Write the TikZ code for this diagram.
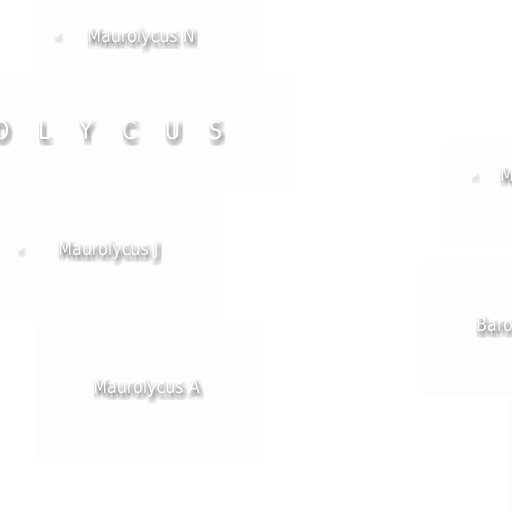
\documentclass[tikz,border=0pt]{standalone}
\usepackage{fontspec}
\setmainfont[FakeStretch=0.84]{DejaVu Sans}
\usetikzlibrary{positioning}
\definecolor{tileclr}{RGB}{253,253,253}
\definecolor{shdclr}{RGB}{40,40,40}
\tikzset{
  tile/.style={fill=tileclr,draw=none},
  lbl/.style={font=\fontsize{19}{19}\selectfont,text=white,inner sep=0pt,anchor=base,
    shdfill/.style={}},
  biglbl/.style={font=\fontsize{25}{25}\selectfont,text=white,inner sep=0pt,anchor=base,
    shdfill/.style={}},
  pit/.style={circle,fill=white,inner sep=0pt,minimum size=4bp,
    shdfill/.style={fill=shdclr,opacity=0.008}},
  shd/.style={text=shdclr,opacity=0.016,shdfill},
}
% name, style, position, text: white label with a soft drop shadow
\newcommand{\maplabel}[4]{%
  \foreach \dx in {-1,0,...,5}{\foreach \dy in {0,...,7}{%
    \node[#2,shd,xshift=\dx bp,yshift=-\dy bp] (#1-\dx-\dy) at (#3) {#4};}}
  \node[#2] (#1) at (#3) {#4};}

\begin{document}
\begin{tikzpicture}[x=1bp,y=-1bp]
  \useasboundingbox (0,0) rectangle (512,512);
  \clip (0,0) rectangle (512,512);
  \fill[white] (0,0) rectangle (512,512);
  % tiles
  \fill[tile] (33,0) rectangle (257,75);
  \fill[tile] (0,75) rectangle (295,192);
  \fill[tile] (0,192) rectangle (222,318);
  \fill[tile] (37,322) rectangle (262,458);
  \fill[tile] (447,140) rectangle (512,245);
  \fill[tile] (423,260) rectangle (512,395);
  \fill[tile] (507,400) rectangle (512,512);
  % crater pits
  \maplabel{pitN}{pit}{57,35}{}
  \maplabel{pitJ}{pit}{20,249}{}
  \maplabel{pitM}{pit}{474,175}{}
  % big name
  \foreach \ch/\xx in {O/1,L/44,Y/86,C/129.5,U/172.5,S/215.5}{
    \maplabel{big\ch}{biglbl}{\xx,140}{\ch}
  }
  % crater names
  \maplabel{nameN}{lbl}{141,42.5}{Maurolycus N}
  \maplabel{nameJ}{lbl}{108.5,255}{Maurolycus J}
  \maplabel{nameA}{lbl}{146.5,393}{Maurolycus A}
  \maplabel{nameM}{lbl,anchor=base west}{500,182}{M}
  \maplabel{nameB}{lbl,anchor=base west}{476,331}{Baro}
\end{tikzpicture}
\end{document}
